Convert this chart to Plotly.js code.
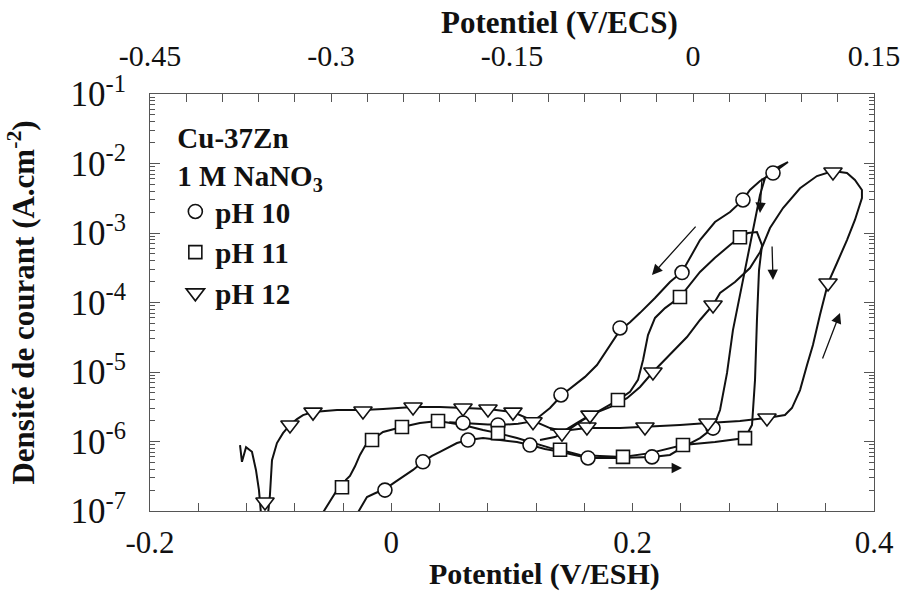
<!DOCTYPE html>
<html>
<head>
<meta charset="utf-8">
<script src="https://cdn.plot.ly/plotly-3.0.1.min.js"></script>
<style>html,body{margin:0;padding:0;background:#fff;}#chart{width:906px;height:594px;}</style>
</head>
<body>
<div id="chart"></div>
<script>
// ---- Data (x: V/ESH, y: A.cm-2) ----
const ph10LineX = [-0.0285,-0.0243,-0.0202,-0.0135,-0.0053,0.0030,0.0097,0.0180,0.0262,0.0337,0.0403,0.0486,0.0544,0.0635,0.0760,0.0900,0.1041,0.1149,0.1273,0.1398,0.1630,0.1870,0.2160,0.2309,0.2417,0.2558,0.2666,0.2724,0.2782,0.2831,0.2889,0.2956,0.3014,0.3055,0.3097,0.3163,0.3221,0.3287,
  0.3163,0.3055,0.2972,0.2914,0.2807,0.2682,0.2558,0.2475,0.2409,0.2309,0.2185,0.2061,0.1978,0.1895,0.1796,0.1704,0.1605,0.1522,0.1414,0.1315,0.1215,0.1132,0.1050,0.0950,0.0800,0.0594,0.0480];
const ph10LineY = [9e-8,1.22e-7,1.59e-7,1.8e-7,2.07e-7,2.6e-7,3.1e-7,3.9e-7,5.1e-7,6.2e-7,7.1e-7,8.3e-7,9.5e-7,1.05e-6,1.12e-6,1.05e-6,9.8e-7,8.9e-7,7.8e-7,7.1e-7,5.8e-7,5.8e-7,6.0e-7,6.4e-7,8.3e-7,1.12e-6,1.56e-6,2.84e-6,9.7e-6,4.0e-5,1.28e-4,4.8e-4,1.54e-3,3.5e-3,6.2e-3,8.1e-3,9.2e-3,1.05e-2,
  7.3e-3,5.6e-3,4.16e-3,2.99e-3,2.0e-3,1.44e-3,7.9e-4,4.4e-4,2.75e-4,1.97e-4,1.16e-4,7.1e-5,5.2e-5,4.0e-5,2.2e-5,1.26e-5,8.5e-6,6.5e-6,4.67e-6,3.03e-6,2.2e-6,1.9e-6,1.8e-6,1.75e-6,1.75e-6,1.85e-6,1.9e-6];
const ph10MarkX = [-0.0053,0.0262,0.0635,0.1149,0.1630,0.2160,0.2666,0.3163,0.2914,0.2409,0.1895,0.1406,0.0884,0.0594];
const ph10MarkY = [2.0e-7,5.1e-7,1.05e-6,8.9e-7,5.8e-7,6.0e-7,1.56e-6,7.3e-3,2.99e-3,2.7e-4,4.3e-5,4.67e-6,1.73e-6,1.85e-6];

const ph11LineX = [-0.0575,-0.0525,-0.0483,-0.0450,-0.0409,-0.0376,-0.0343,-0.0301,-0.0260,-0.0218,-0.0160,-0.0069,0.0088,0.0237,0.0387,0.0594,0.0760,0.0884,0.1041,0.1174,0.1315,0.1398,0.1563,0.1729,0.1920,0.2144,0.2417,0.2682,0.2931,0.2989,0.3014,0.3030,0.3047,0.3072,0.3030,0.2956,
  0.2889,0.2807,0.2682,0.2558,0.2475,0.2392,0.2268,0.2185,0.2127,0.2086,0.2044,0.1978,0.1878,0.1729,0.1588,0.1464,0.1356,0.1232];
const ph11LineY = [9e-8,1.22e-7,1.59e-7,2.0e-7,2.2e-7,2.8e-7,3.2e-7,4.4e-7,6.4e-7,8.6e-7,1.05e-6,1.37e-6,1.62e-6,1.85e-6,1.97e-6,1.73e-6,1.46e-6,1.32e-6,1.12e-6,9.5e-7,8.1e-7,7.6e-7,6.4e-7,6.2e-7,6.0e-7,6.8e-7,8.9e-7,9.8e-7,1.12e-6,1.73e-6,7.7e-6,5.6e-5,2.9e-4,6.7e-4,1.03e-3,1.0e-3,
  8.7e-4,6.7e-4,4.4e-4,2.75e-4,1.79e-4,1.20e-4,8.3e-5,6.0e-5,3.4e-5,1.49e-5,7.7e-6,5.2e-6,3.95e-6,2.84e-6,2.04e-6,1.46e-6,1.16e-6,1.05e-6];
const ph11MarkX = [-0.0409,-0.0160,0.0088,0.0387,0.0884,0.1398,0.1920,0.2417,0.2931,0.2889,0.2392,0.1878];
const ph11MarkY = [2.2e-7,1.05e-6,1.62e-6,1.97e-6,1.32e-6,7.6e-7,6.0e-7,8.9e-7,1.12e-6,8.7e-4,1.2e-4,3.95e-6];

const ph12LineX = [-0.1254,-0.1238,-0.1204,-0.1155,-0.1122,-0.1097,-0.1080,-0.1022,-0.1006,-0.0989,-0.0948,-0.0898,-0.0840,-0.0782,-0.0732,-0.0649,-0.0450,-0.0235,-0.0069,0.0180,0.0403,0.0594,0.0801,0.1008,0.1174,0.1315,0.1414,0.1621,0.1895,0.2102,0.2392,0.2624,0.2889,0.3113,0.3262,0.3320,0.3387,0.3445,0.3494,0.3552,0.3619,0.3693,0.3776,0.3842,0.3900,0.3900,0.3842,0.3776,0.3660,
  0.3527,0.3387,0.3246,0.3138,0.3055,0.2972,0.2848,0.2724,0.2666,0.2558,0.2450,0.2284,0.2168,0.2061,0.1953,0.1812,0.1646,0.1539,0.1414,0.1315];
const ph12LineY = [8.9e-7,5.1e-7,8.3e-7,7.1e-7,3.9e-7,2.0e-7,9e-8,9e-8,1.7e-7,5.4e-7,9.5e-7,1.32e-6,1.73e-6,2.1e-6,2.4e-6,2.65e-6,2.84e-6,2.84e-6,2.94e-6,3.13e-6,3.13e-6,3.03e-6,2.94e-6,2.65e-6,1.97e-6,1.56e-6,1.42e-6,1.56e-6,1.56e-6,1.62e-6,1.73e-6,1.85e-6,1.97e-6,2.18e-6,2.4e-6,3.03e-6,5.5e-6,1.26e-5,2.44e-5,6.6e-5,1.91e-4,3.7e-4,7.9e-4,1.54e-3,3.19e-3,4.16e-3,5.8e-3,7.3e-3,7.8e-3,
  6.6e-3,4.4e-3,2.29e-3,1.18e-3,5.3e-4,3.13e-4,1.97e-4,1.37e-4,9.2e-5,5.6e-5,3.19e-5,1.64e-5,1.0e-5,6.1e-6,4.2e-6,3.13e-6,2.4e-6,1.85e-6,1.37e-6,1.5e-6];
const ph12MarkX = [-0.1047,-0.0840,-0.0649,-0.0235,0.0180,0.0594,0.0801,0.1008,0.1174,0.1414,0.1621,0.2102,0.2624,0.3113,0.3619,0.3660,0.2666,0.2168,0.1646];
const ph12MarkY = [1.35e-7,1.73e-6,2.65e-6,2.75e-6,3.13e-6,3.03e-6,2.94e-6,2.65e-6,1.92e-6,1.32e-6,1.62e-6,1.62e-6,1.85e-6,2.18e-6,1.91e-4,7.55e-3,9.2e-5,1.0e-5,2.4e-6];

const seriesNames = ['pH 10','pH 11','pH 12'];
const yTickVals = [1e-7,1e-6,1e-5,1e-4,1e-3,1e-2,1e-1];
const yTickText = ['10<sup>-7</sup>','10<sup>-6</sup>','10<sup>-5</sup>','10<sup>-4</sup>','10<sup>-3</sup>','10<sup>-2</sup>','10<sup>-1</sup>'];
const xTickVals = [-0.2,0,0.2,0.4];
const xTickText = ['-0.2','0','0.2','0.4'];
const x2TickVals = [-0.45,-0.3,-0.15,0,0.15];
const x2TickText = ['-0.45','-0.3','-0.15','0','0.15'];
const xTitleText = 'Potentiel (V/ESH)';
const x2TitleText = 'Potentiel (V/ECS)';
const yTitleText = 'Densité de courant (A.cm<sup>-2</sup>)';

// ---- Styling ----
const SERIF = 'Liberation Serif';
const lineStyle = {color:'#111', width:2};
const markerBase = {color:'white', size:14, line:{color:'#111', width:1.6}};

function lineTrace(x, y){
  return {x:x, y:y, type:'scatter', mode:'lines', line:lineStyle, showlegend:false, hoverinfo:'skip'};
}
function markTrace(x, y, name, symbol, size){
  return {x:x, y:y, type:'scatter', mode:'markers', name:name,
          marker:Object.assign({}, markerBase, {symbol:symbol, size:size})};
}

const traces = [
  lineTrace(ph10LineX, ph10LineY),
  lineTrace(ph11LineX, ph11LineY),
  lineTrace(ph12LineX, ph12LineY),
  markTrace(ph10MarkX, ph10MarkY, seriesNames[0], 'circle', 14),
  markTrace(ph11MarkX, ph11MarkY, seriesNames[1], 'square', 13),
  markTrace(ph12MarkX, ph12MarkY, seriesNames[2], 'triangle-down', 16)
];

function arrow(x, y, ax, ay){
  return {x:x, y:Math.log10(y), ax:ax, ay:Math.log10(ay), xref:'x', yref:'y', axref:'x', ayref:'y',
          showarrow:true, arrowhead:2, arrowsize:1.6, arrowwidth:1.3, arrowcolor:'#111', text:''};
}

const axisCommon = {showline:true, linecolor:'#555', linewidth:1, ticks:'inside', tickcolor:'#555', ticklen:8,
                    showgrid:false, zeroline:false, color:'#111'};
const titleFont = {size:31, weight:'bold', family:SERIF, color:'#111'};
const xTitleFont = {size:30, weight:'bold', family:SERIF, color:'#111'};

const layout = {
  width:906, height:594,
  margin:{l:150, r:32, t:94, b:83},
  paper_bgcolor:'white', plot_bgcolor:'white',
  font:{family:SERIF, color:'#111'},
  showlegend:true,
  legend:{x:0.035, y:0.96, xanchor:'left', yanchor:'top', bgcolor:'rgba(0,0,0,0)',
          font:{size:29, weight:'bold', family:SERIF}, tracegroupgap:0, itemwidth:30,
          title:{text:'Cu-37Zn<br>1 M NaNO<sub>3</sub>', font:{size:29, weight:'bold', family:SERIF}}},
  xaxis:Object.assign({}, axisCommon, {
    range:[-0.2,0.4], tickmode:'array', tickvals:xTickVals, ticktext:xTickText,
    tickfont:{size:31, family:SERIF}, ticklabelstandoff:4,
    minor:{tickmode:'linear', tick0:-0.2, dtick:0.04, ticks:'inside', ticklen:8, tickcolor:'#555'}
  }),
  xaxis2:Object.assign({}, axisCommon, {
    overlaying:'x', side:'top', anchor:'y',
    range:[-0.45,0.15], tickmode:'array', tickvals:x2TickVals, ticktext:x2TickText,
    tickfont:{size:30, family:SERIF}, ticklabelstandoff:15,
    minor:{tickmode:'linear', tick0:-0.45, dtick:0.03, ticks:'inside', ticklen:8, tickcolor:'#555'}
  }),
  yaxis:Object.assign({}, axisCommon, {
    type:'log', range:[-7,-1], mirror:'ticks', ticklen:10,
    tickmode:'array', tickvals:yTickVals, ticktext:yTickText,
    tickfont:{size:35, family:SERIF}, ticklabelstandoff:16,
    minor:{dtick:'D1', ticks:'inside', ticklen:5, tickcolor:'#555'},
    title:{text:yTitleText, font:titleFont, standoff:26}
  }),
  annotations:[
    {text:xTitleText, xref:'paper', yref:'paper', x:0.545, y:-0.15, xanchor:'center', yanchor:'middle', showarrow:false, font:xTitleFont},
    {text:x2TitleText, xref:'paper', yref:'paper', x:0.565, y:1.172, xanchor:'center', yanchor:'middle', showarrow:false, font:titleFont},
    arrow(0.2160, 2.49e-4, 0.2533, 1.30e-3),
    arrow(0.2409, 4.16e-7, 0.1787, 4.16e-7),
    arrow(0.3718, 7.06e-5, 0.3569, 1.49e-5),
    arrow(0.3055, 1.94e-3, 0.3072, 6.4e-3),
    arrow(0.3163, 2.11e-4, 0.3155, 6.7e-4)
  ]
};

// invisible trace placed on the top axis so that axis is registered
traces.push({x:[-0.45,0.15], y:[1e-7,1e-7], xaxis:'x2', yaxis:'y', type:'scatter', mode:'markers',
             marker:{opacity:0}, showlegend:false, hoverinfo:'skip'});

Plotly.newPlot('chart', traces, layout, {staticPlot:true, displayModeBar:false});
</script>
</body>
</html>
